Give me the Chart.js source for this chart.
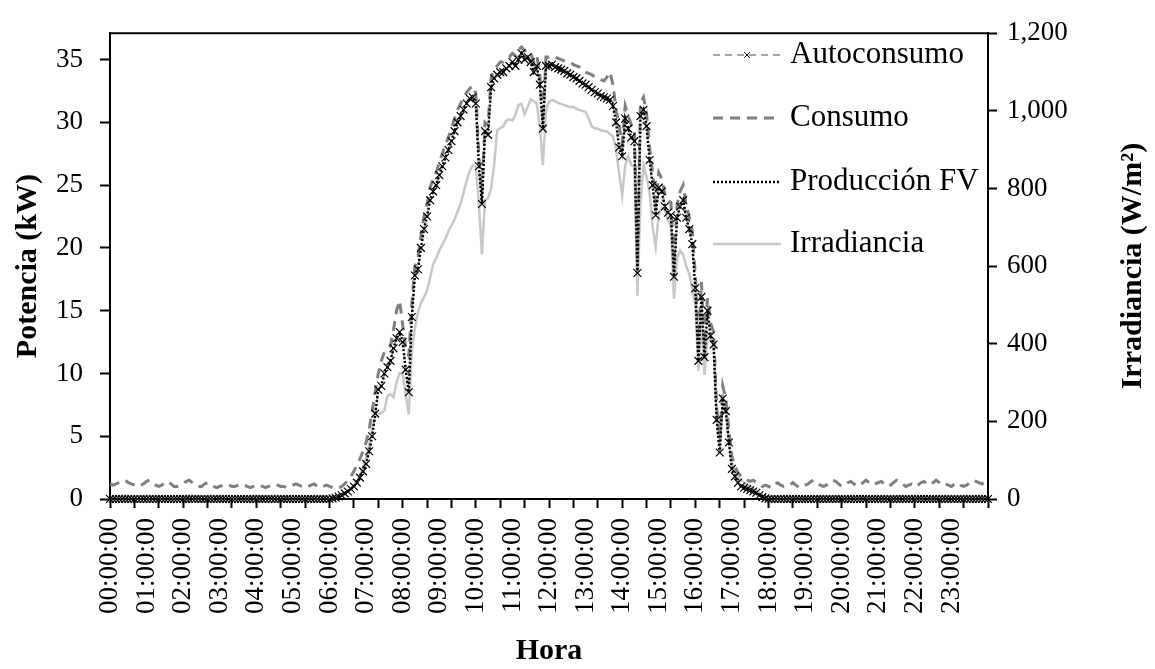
<!DOCTYPE html>
<html lang="es">
<head>
<meta charset="UTF-8">
<title>Potencia e irradiancia</title>
<script src="https://cdn.jsdelivr.net/npm/chart.js"></script>
<style>
  html, body { margin: 0; padding: 0; background: #fff; }
  canvas { display: block; }
</style>
</head>
<body>
<canvas id="grafico" width="1155" height="669"></canvas>
<script>
// etiquetas visibles del eje X (una por hora)
const horas = ['00:00:00','01:00:00','02:00:00','03:00:00','04:00:00','05:00:00',
  '06:00:00','07:00:00','08:00:00','09:00:00','10:00:00','11:00:00',
  '12:00:00','13:00:00','14:00:00','15:00:00','16:00:00','17:00:00',
  '18:00:00','19:00:00','20:00:00','21:00:00','22:00:00','23:00:00'];

// categorías cada 5 minutos, 00:00 -> 24:00 (289 puntos)
const categorias = [];
for (let i = 0; i <= 288; i++) {
  const h = Math.floor(i / 12) % 24, m = (i % 12) * 5;
  categorias.push(String(h).padStart(2, '0') + ':' + String(m).padStart(2, '0') + ':00');
}

// kW, una fila por hora
const autoconsumo = [
  0,0,0,0,0,0,0,0,0,0,0,0,
  0,0,0,0,0,0,0,0,0,0,0,0,
  0,0,0,0,0,0,0,0,0,0,0,0,
  0,0,0,0,0,0,0,0,0,0,0,0,
  0,0,0,0,0,0,0,0,0,0,0,0,
  0,0,0,0,0,0,0,0,0,0,0,0,
  0,0.05,0.1,0.2,0.3,0.45,0.6,0.8,1.0,1.3,1.7,2.2,
  2.8,3.8,5.0,6.8,8.7,9.0,10.0,10.5,11.0,12.0,12.8,13.3,
  12.5,10.3,8.5,14.5,17.8,18.3,20.0,21.5,22.5,23.8,24.5,25.0,
  25.8,26.5,27.2,27.8,28.5,29.3,30.0,30.5,31.0,31.5,31.9,32.0,
  31.5,26.5,23.5,29.3,29.0,32.8,33.5,33.8,34.0,34.0,34.3,34.5,
  34.8,34.5,35.0,35.5,35.0,35.2,34.8,34.0,34.5,33.0,29.5,34.5,
  34.5,34.6,34.4,34.3,34.2,34.1,33.9,33.8,33.6,33.5,33.3,33.1,
  33.0,32.8,32.6,32.4,32.3,32.1,32.0,31.9,31.8,31.3,30.0,28.0,
  27.3,30.3,29.5,28.8,28.5,18.0,30.5,31.0,29.7,27.0,25.0,22.6,
  24.8,24.5,23.3,22.8,22.6,17.7,22.4,23.3,23.8,22.4,21.5,20.3,
  16.8,11.0,16.1,11.3,15.0,13.0,12.3,6.3,3.7,8.0,7.0,4.5,
  2.4,1.8,1.3,1.0,0.9,0.8,0.7,0.6,0.5,0.3,0.15,0.05,
  0,0,0,0,0,0,0,0,0,0,0,0,
  0,0,0,0,0,0,0,0,0,0,0,0,
  0,0,0,0,0,0,0,0,0,0,0,0,
  0,0,0,0,0,0,0,0,0,0,0,0,
  0,0,0,0,0,0,0,0,0,0,0,0,
  0,0,0,0,0,0,0,0,0,0,0,0,
  0
];

const consumo = [
  1.2,1.1,1.2,1.3,1.4,1.5,1.3,1.2,1.1,1.0,1.1,1.2,
  1.4,1.5,1.3,1.1,1.0,1.1,1.3,1.4,1.2,1.0,1.0,1.1,
  1.2,1.4,1.5,1.3,1.1,1.0,1.0,1.2,1.3,1.1,1.0,0.9,
  1.0,1.1,1.2,1.1,1.0,1.0,1.1,1.2,1.1,1.0,0.9,1.0,
  1.1,1.1,1.0,0.9,1.0,1.1,1.2,1.1,1.0,1.0,0.9,1.0,
  1.1,1.2,1.1,1.0,0.9,1.0,1.1,1.2,1.0,0.9,1.0,1.1,
  1.0,0.9,0.8,0.9,1.0,1.2,1.5,1.8,2.2,2.7,3.2,3.8,
  4.5,5.5,7.0,8.5,10.0,11.0,11.7,12.0,12.2,13.5,15.0,15.8,
  13.9,11.9,11.4,15.5,18.5,19.2,21.0,22.5,23.5,24.8,25.5,26.0,
  26.8,27.5,28.2,28.8,29.5,30.3,31.0,31.5,32.0,32.4,32.7,32.9,
  32.3,27.3,24.3,30.0,29.8,33.5,34.2,34.5,34.8,34.8,35.0,35.2,
  35.5,35.3,35.8,36.0,35.7,35.8,35.5,34.8,35.3,33.8,30.2,35.2,
  35.2,35.3,35.2,35.1,35.0,34.9,34.8,34.8,34.6,34.5,34.4,34.2,
  34.0,33.9,33.8,33.6,33.5,33.4,33.3,33.6,34.0,33.0,31.0,29.7,
  28.3,31.3,30.5,29.8,29.5,19.0,31.5,32.0,30.7,28.0,26.0,23.6,
  26.0,25.5,24.3,23.8,23.6,18.7,23.4,24.5,25.0,23.4,22.5,21.3,
  17.8,12.0,17.3,12.3,16.0,14.0,13.3,7.3,4.7,9.0,8.0,5.5,
  3.4,2.6,2.1,1.8,1.6,1.5,1.4,1.5,1.3,1.2,1.0,1.1,
  1.0,0.9,1.2,1.3,1.1,1.0,1.0,1.1,1.3,1.1,0.9,1.0,
  1.1,1.2,1.4,1.5,1.3,1.1,1.0,1.1,1.3,1.5,1.4,1.2,
  1.0,1.1,1.3,1.4,1.2,1.0,1.1,1.3,1.5,1.3,1.1,1.2,
  1.3,1.4,1.2,1.0,1.1,1.3,1.5,1.4,1.2,1.0,1.1,1.2,
  1.0,1.1,1.3,1.4,1.2,1.1,1.3,1.5,1.3,1.1,1.2,1.1,
  1.0,1.2,1.3,1.1,1.0,1.1,1.3,1.5,1.4,1.3,1.2,1.4,
  1.3
];

const produccionFV = [
  0,0,0,0,0,0,0,0,0,0,0,0,
  0,0,0,0,0,0,0,0,0,0,0,0,
  0,0,0,0,0,0,0,0,0,0,0,0,
  0,0,0,0,0,0,0,0,0,0,0,0,
  0,0,0,0,0,0,0,0,0,0,0,0,
  0,0,0,0,0,0,0,0,0,0,0,0,
  0,0.05,0.1,0.2,0.3,0.45,0.6,0.8,1.0,1.3,1.7,2.2,
  2.8,3.8,5.0,6.8,8.7,9.0,10.0,10.5,11.0,12.0,12.8,13.3,
  12.5,10.3,8.5,14.5,17.8,18.3,20.0,21.5,22.5,23.8,24.5,25.0,
  25.8,26.5,27.2,27.8,28.5,29.3,30.0,30.5,31.0,31.5,31.9,32.0,
  31.5,26.5,23.5,29.3,29.0,32.8,33.5,33.8,34.0,34.0,34.3,34.5,
  34.8,34.5,35.0,35.5,35.0,35.2,34.8,34.0,34.5,33.0,29.5,34.5,
  34.5,34.6,34.4,34.3,34.2,34.1,33.9,33.8,33.6,33.5,33.3,33.1,
  33.0,32.8,32.6,32.4,32.3,32.1,32.0,31.9,31.8,31.3,30.0,28.0,
  27.3,30.3,29.5,28.8,28.5,18.0,30.5,31.0,29.7,27.0,25.0,22.6,
  24.8,24.5,23.3,22.8,22.6,17.7,22.4,23.3,23.8,22.4,21.5,20.3,
  16.8,11.0,16.1,11.3,15.0,13.0,12.3,6.3,3.7,8.0,7.0,4.5,
  2.4,1.8,1.3,1.0,0.9,0.8,0.7,0.6,0.5,0.3,0.15,0.05,
  0,0,0,0,0,0,0,0,0,0,0,0,
  0,0,0,0,0,0,0,0,0,0,0,0,
  0,0,0,0,0,0,0,0,0,0,0,0,
  0,0,0,0,0,0,0,0,0,0,0,0,
  0,0,0,0,0,0,0,0,0,0,0,0,
  0,0,0,0,0,0,0,0,0,0,0,0,
  0
];

// W/m², eje derecho
const irradiancia = [
  0,0,0,0,0,0,0,0,0,0,0,0,
  0,0,0,0,0,0,0,0,0,0,0,0,
  0,0,0,0,0,0,0,0,0,0,0,0,
  0,0,0,0,0,0,0,0,0,0,0,0,
  0,0,0,0,0,0,0,0,0,0,0,0,
  0,0,0,0,0,0,0,0,0,0,0,0,
  0,2,4,7,10,15,20,27,35,45,60,80,
  105,140,180,210,218,222,228,265,270,262,300,325,
  322,270,218,380,440,480,505,520,537,570,605,620,
  640,655,670,690,705,720,740,760,790,820,845,860,
  855,760,630,770,775,800,860,950,955,960,975,978,
  975,990,1015,1018,992,1010,1030,1025,1018,960,860,1000,
  1023,1028,1025,1020,1018,1015,1012,1010,1010,1005,1002,1000,
  997,980,960,955,954,950,948,947,940,934,900,840,
  782,860,883,860,858,524,760,860,830,790,700,650,
  732,750,745,720,699,516,620,640,630,600,580,540,
  500,330,460,320,420,410,400,210,150,240,245,150,
  95,70,55,48,42,38,33,28,22,15,8,3,
  0,0,0,0,0,0,0,0,0,0,0,0,
  0,0,0,0,0,0,0,0,0,0,0,0,
  0,0,0,0,0,0,0,0,0,0,0,0,
  0,0,0,0,0,0,0,0,0,0,0,0,
  0,0,0,0,0,0,0,0,0,0,0,0,
  0,0,0,0,0,0,0,0,0,0,0,0,
  0
];

const serif = "'Liberation Serif', 'Times New Roman', serif";
const fuenteTicks = { family: serif, size: 27 };
const fuenteTitulo = { family: serif, size: 30, weight: 'bold' };

// leyenda dentro del área de datos, arriba a la derecha
const leyenda = {
  id: 'leyenda',
  afterDatasetsDraw(chart) {
    const ctx = chart.ctx;
    const filas = [55, 118, 182, 244];
    chart.data.datasets.forEach((ds, k) => {
      const y = filas[k];
      ctx.save();
      ctx.strokeStyle = ds.borderColor;
      ctx.lineWidth = ds.borderWidth;
      ctx.setLineDash(ds.borderDash || []);
      ctx.beginPath();
      ctx.moveTo(713, y);
      ctx.lineTo(781, y);
      ctx.stroke();
      if (ds.pointRadius > 0) {
        ctx.setLineDash([]);
        ctx.strokeStyle = ds.pointBorderColor;
        ctx.lineWidth = 1;
        Chart.helpers.drawPoint(ctx, { pointStyle: ds.pointStyle, radius: 4, rotation: 0, borderWidth: 1 }, 747, y);
      }
      ctx.fillStyle = '#000';
      ctx.font = '31px ' + serif;
      ctx.textBaseline = 'middle';
      ctx.fillText(ds.label, 790, y);
      ctx.restore();
    });
  }
};

// borde superior del área y título del eje derecho (de abajo arriba)
const marco = {
  id: 'marco',
  afterDraw(chart) {
    const { ctx, chartArea: a } = chart;
    ctx.save();
    ctx.strokeStyle = '#000';
    ctx.lineWidth = 2;
    ctx.beginPath();
    ctx.moveTo(a.left - 1, a.top);
    ctx.lineTo(a.right + 1, a.top);
    ctx.stroke();
    ctx.translate(1133, (a.top + a.bottom) / 2);
    ctx.rotate(-Math.PI / 2);
    ctx.fillStyle = '#000';
    ctx.font = 'bold 30px ' + serif;
    ctx.textAlign = 'center';
    ctx.textBaseline = 'middle';
    ctx.fillText('Irradiancia (W/m²)', 0, 0);
    ctx.restore();
  }
};

new Chart(document.getElementById('grafico'), {
  type: 'line',
  data: {
    labels: categorias,
    datasets: [
      {
        label: 'Autoconsumo', data: autoconsumo, yAxisID: 'y', order: 1,
        borderColor: '#a6a6a6', borderWidth: 2, borderDash: [7, 5],
        pointStyle: 'crossRot', pointRadius: 5.5, pointBorderColor: '#000', pointBorderWidth: 1.2,
        pointBackgroundColor: '#000', clip: 8
      },
      {
        label: 'Consumo', data: consumo, yAxisID: 'y', order: 2,
        borderColor: '#7f7f7f', borderWidth: 3, borderDash: [10, 7], pointRadius: 0
      },
      {
        label: 'Producción FV', data: produccionFV, yAxisID: 'y', order: 0,
        borderColor: '#000', borderWidth: 2.5, borderDash: [2, 2], pointRadius: 0
      },
      {
        label: 'Irradiancia', data: irradiancia, yAxisID: 'y1', order: 3,
        borderColor: '#c8c8c8', borderWidth: 2.5, pointRadius: 0
      }
    ]
  },
  options: {
    responsive: false,
    animation: false,
    layout: { padding: { top: 25, left: 0, right: 0, bottom: 0 } },
    plugins: { legend: { display: false }, tooltip: { enabled: false } },
    elements: { line: { tension: 0 } },
    scales: {
      x: {
        type: 'category',
        afterBuildTicks: s => { s.ticks = s.ticks.filter(t => t.value % 4 === 0); },
        afterFit: s => { s.height = 170; },
        grid: {
          drawOnChartArea: false, tickLength: 9, tickWidth: 2,
          tickColor: c => (c.tick && c.tick.value % 8 === 0) ? '#000' : 'rgba(0,0,0,0)'
        },
        border: { color: '#000', width: 2 },
        ticks: {
          autoSkip: false, minRotation: 90, maxRotation: 90, padding: 10,
          color: '#000', font: fuenteTicks,
          callback: v => (v % 12 === 0 && v < 288) ? horas[v / 12] : ''
        },
        title: { display: true, text: 'Hora', color: '#000', font: fuenteTitulo, padding: { top: 0, bottom: 0 } }
      },
      y: {
        position: 'left', min: 0, max: 37.1,
        afterFit: s => { s.width = 110; },
        grid: { drawOnChartArea: false, tickLength: 10, tickWidth: 2, tickColor: '#000' },
        border: { color: '#000', width: 2 },
        ticks: { stepSize: 5, includeBounds: false, padding: 17, color: '#000', font: fuenteTicks },
        title: { display: true, text: 'Potencia (kW)', color: '#000', font: fuenteTitulo, padding: { top: 10, bottom: 0 } }
      },
      y1: {
        position: 'right', min: 0, max: 1200,
        afterFit: s => { s.width = 167; },
        grid: { drawOnChartArea: false, tickLength: 9, tickWidth: 2, tickColor: '#000' },
        border: { color: '#000', width: 2 },
        ticks: {
          stepSize: 200, includeBounds: false, padding: 10, color: '#000', font: fuenteTicks,
          callback: v => v.toLocaleString('en-US')
        }
      }
    }
  },
  plugins: [leyenda, marco]
});
</script>
</body>
</html>
